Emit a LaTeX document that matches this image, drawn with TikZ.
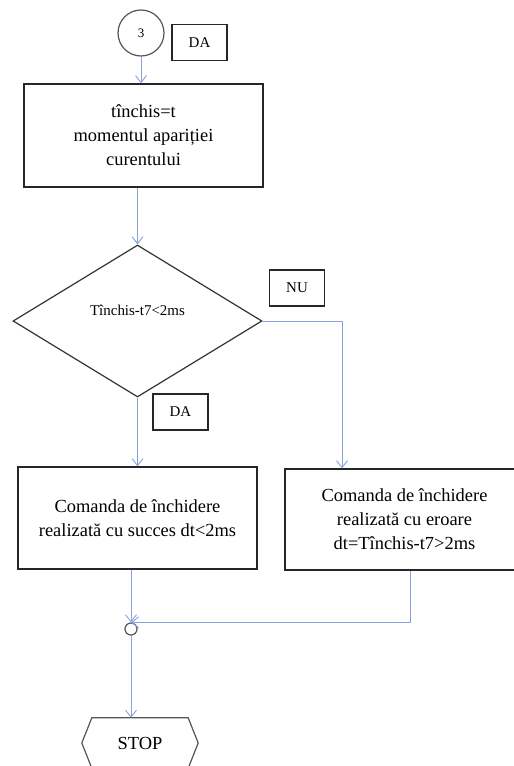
\documentclass[tikz,border=0pt]{standalone}
\usepackage{fontspec}
\setmainfont{Liberation Serif}
\usetikzlibrary{arrows.meta,shapes.geometric}
\definecolor{linkblue}{HTML}{86A2DE}
\definecolor{edgegray}{HTML}{555555}
\begin{document}
\begin{tikzpicture}[x=1bp,y=-1bp,
  box/.style={draw=black!85, line width=1.4bp, inner sep=0, align=center,
    minimum width=239bp, font=\fontsize{18.5}{24}\selectfont},
  tag/.style={draw=black!85, line width=1.3bp, inner sep=0,
    minimum width=55bp, minimum height=36bp, font=\fontsize{15}{18}\selectfont},
  term/.style={draw=edgegray, line width=1.2bp},
  conn/.style={draw=linkblue, line width=0.9bp,
    -{Straight Barb[length=7bp,width=11bp]}}]
\useasboundingbox (0,0) rectangle (514,766);
\clip (0,0) rectangle (514,766);

% entry connector and its label
\node[circle, term, minimum size=46bp, inner sep=0,
  font=\fontsize{13}{16}\selectfont] (c3) at (141,33) {3};
\node[tag] (da1) at (199.5,42.5) {DA};

% closing time assignment
\node[box, minimum height=103bp] (init) at (143.5,135.5)
  {tînchis=t\\momentul apariției\\curentului};

% decision on the closing delay
\node[diamond, draw=black!80, line width=1.2bp, minimum width=249bp,
  minimum height=152bp, inner sep=0] (dec) at (137.5,321) {};
\node[font=\fontsize{15}{18}\selectfont] (dectext) at (137.5,310) {Tînchis-t7<2ms};
\node[tag] (nu) at (297,288) {NU};
\node[tag] (da2) at (180.5,412) {DA};

% outcomes
\node[box, minimum height=102bp] (ok) at (137.5,518)
  {Comanda de închidere\\realizată cu succes dt<2ms};
\node[box, minimum height=101bp] (err) at (404.5,519.5)
  {Comanda de închidere\\realizată cu eroare\\dt=Tînchis-t7>2ms};

% junction and end
\node[circle, term, minimum size=12bp, inner sep=0] (merge) at (131,629) {};
\node[minimum width=116bp, minimum height=50bp, inner sep=0,
  font=\fontsize{18.5}{23}\selectfont] (stop) at (140,743) {STOP};
\draw[term] (stop.west) -- ([xshift=10bp]stop.north west)
  -- ([xshift=-10bp]stop.north east) -- (stop.east)
  -- ([xshift=-10bp]stop.south east) -- ([xshift=10bp]stop.south west) -- cycle;

% connectors
\draw[conn] (c3.south) -- (c3.south |- init.north);
\draw[conn] (dec.north |- init.south) -- (dec.north);
\draw[conn] (dec.south) -- (dec.south |- ok.north);
\draw[conn] (dec.east) -| ([xshift=-62.5bp]err.north);
\draw[conn] (merge.north |- ok.south) -- (merge.north);
\draw[conn] ([xshift=6bp]err.south) |- (merge.north);
\draw[conn] (merge.south) -- (merge.south |- stop.north);
\end{tikzpicture}
\end{document}
